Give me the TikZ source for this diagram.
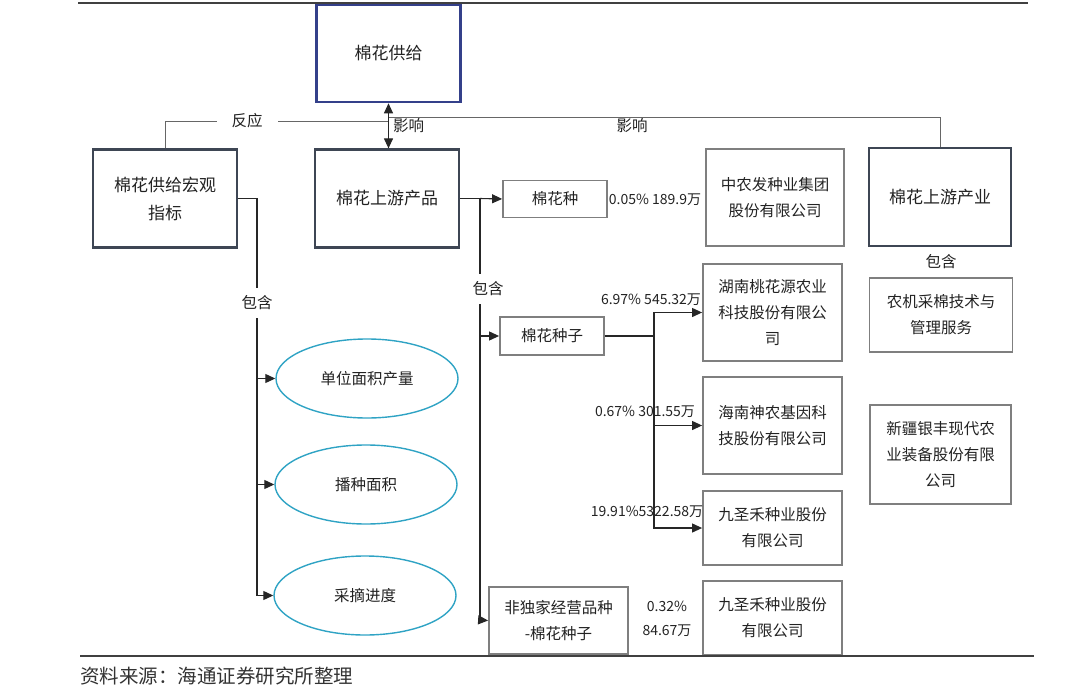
\documentclass[tikz,border=0pt]{standalone}
\usepackage{fontspec}
\setmainfont{Noto Sans CJK SC}
\usetikzlibrary{arrows.meta,shapes.geometric}
\definecolor{boxgray}{HTML}{7F7F7F}
\definecolor{boxdark}{HTML}{3E4654}
\definecolor{boxblue}{HTML}{34408A}
\definecolor{ovalblue}{HTML}{2FA3C4}
\definecolor{txt}{HTML}{222222}
\begin{document}
\begin{tikzpicture}[x=1pt,y=-1pt,
  every node/.style={font=\fontsize{15.5}{26}\selectfont,text=txt},
  >={Triangle[length=10pt,width=9pt]},
  link/.style={line width=1.1pt,black!85},
  faint/.style={line width=0.9pt,black!60},
  rule/.style={line width=1.2pt,black!75},
  bigbox/.style={draw=boxdark,line width=2.2pt,align=center,minimum width=144pt,minimum height=98pt,font=\fontsize{17}{28}\selectfont},
  smallbox/.style={draw=boxgray,line width=1.8pt,align=center},
  company/.style={smallbox,minimum width=139pt},
  oval/.style={draw=ovalblue,line width=1.4pt,ellipse,minimum width=182pt,minimum height=79pt},
  tag/.style={fill=white,inner xsep=3pt,inner ysep=8pt},
  pct/.style={font=\fontsize{14}{24}\selectfont,align=center}]
\useasboundingbox (0,0) rectangle (1080,693);
\draw[rule] (78,3) -- (1028,3);
% main boxes
\node[bigbox,draw=boxblue,line width=2.6pt,minimum height=97pt] (supply) at (388.5,53.5) {棉花供给};
\node[bigbox] (macro) at (165,198.5) {棉花供给宏观\\指标};
\node[bigbox] (upprod) at (387,198.5) {棉花上游产品};
\node[bigbox,minimum width=142pt] (indust) at (940,197) {棉花上游产业};
% seed products
\node[smallbox,minimum width=104pt,minimum height=37pt] (seed) at (555,199) {棉花种};
\node[smallbox,minimum width=104pt,minimum height=38pt] (seedz) at (552,336) {棉花种子};
\node[smallbox,minimum width=139pt,minimum height=67pt] (nonex) at (558.5,620.5) {非独家经营品种\\-棉花种子};
% companies
\node[company,minimum width=138pt,minimum height=97pt] (zhongnong) at (775,197.5) {中农发种业集团\\股份有限公司};
\node[company,minimum height=97pt] (hunan) at (772.5,312.5) {湖南桃花源农业\\科技股份有限公\\司};
\node[company,minimum height=97pt] (hainan) at (772.5,425.5) {海南神农基因科\\技股份有限公司};
\node[company,minimum height=74pt] (jsh1) at (772.5,528) {九圣禾种业股份\\有限公司};
\node[company,minimum height=74pt] (jsh2) at (772.5,618) {九圣禾种业股份\\有限公司};
\node[company,minimum width=143pt,minimum height=74pt] (service) at (941,315) {农机采棉技术与\\管理服务};
\node[company,minimum width=141pt,minimum height=99pt] (xinjiang) at (940.5,454.5) {新疆银丰现代农\\业装备股份有限\\公司};
\node (icont) at (941,262) {包含};
% macro indicators
\node[oval] (yield) at (367,378.5) {单位面积产量};
\node[oval] (area) at (366,484.5) {播种面积};
\node[oval] (pick) at (365,595.5) {采摘进度};
% supply <-> upstream
\draw[link,<->] (supply.south) -- (upprod.north -| supply.south) node[midway,right,inner sep=4pt] (inflA) {影响};
% reaction and influence lines
\coordinate (react) at (388,121);
\draw[faint] (macro.north) |- (react);
\node[tag,inner xsep=15pt,inner ysep=2pt] (reactlbl) at (247,121) {反应};
\coordinate (inflL) at (389,117);
\draw[faint] (inflL) -| (indust.north);
\node[below,inner sep=1pt] (inflB) at (632,117) {影响};
% macro bus
\coordinate (lbus) at (257,596);
\draw[link] (macro.east) -| (lbus);
\foreach \o in {yield,area,pick}
  \draw[link,->] (lbus |- \o.west) -- (\o.west);
\node[tag] (lcont) at (257,303) {包含};
% product bus
\coordinate (mbus) at (480,620);
\draw[link] (upprod.east) -| (mbus);
\draw[link,->] (upprod.east -| mbus) -- (seed.west);
\draw[link,->] (mbus |- seedz.west) -- (seedz.west);
\draw[link,->] (mbus) -- (nonex.west);
\node[tag] (mcont) at (488,289) {包含};
% seed bus
\coordinate (sbus) at (654,336);
\draw[link] (seedz.east) -- (sbus);
\draw[link,->] (sbus) |- (hunan.west);
\draw[link,->] (sbus) |- (jsh1.west);
\draw[link,->] (sbus |- hainan.west) -- (hainan.west);
% shares
\node[pct] (p1) at (655,200) {0.05\% 189.9万};
\node[pct] (p2) at (651,300) {6.97\% 545.32万};
\node[pct] (p3) at (645,412) {0.67\% 301.55万};
\node[pct] (p4) at (647,512) {19.91\%5322.58万};
\node[pct] (p5) at (667,619) {0.32\%\\84.67万};
% source
\draw[rule] (80,656) -- (1034,656);
\node[anchor=west,inner sep=0pt,font=\fontsize{19.5}{22}\selectfont,text=black!80] (src) at (80,676) {资料来源：海通证券研究所整理};
\end{tikzpicture}
\end{document}
